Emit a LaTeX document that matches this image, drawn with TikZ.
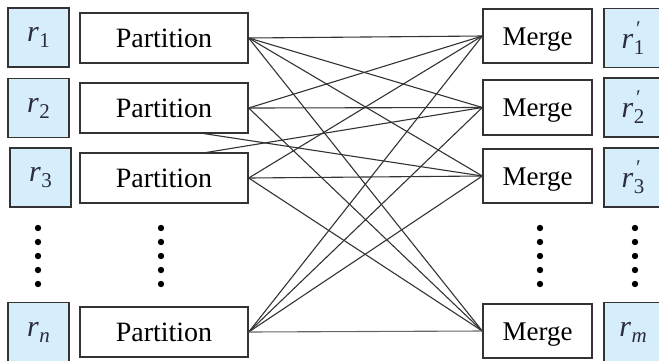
\documentclass[tikz,border=0pt]{standalone}
\usepackage{fontspec}
\setmainfont{Liberation Serif}
\definecolor{boxfill}{HTML}{D6EEFB}
\definecolor{edge}{HTML}{333333}
\definecolor{labelink}{HTML}{2A2A40}
\newcommand{\subfont}{\fontsize{21}{21}\selectfont}
\newcommand{\rsub}[1]{\textit{r}\kern0.5pt\raisebox{-6pt}{\subfont #1}}
\newcommand{\rprime}[1]{\textit{r}\kern0.5pt\rlap{\raisebox{13pt}{\kern1pt\subfont\textit{′}}}\raisebox{-6pt}{\subfont #1}}
\begin{document}
\begin{tikzpicture}[x=1pt,y=-1pt,
  rbox/.style={draw=edge,fill=boxfill,line width=1.4pt,inner sep=0pt,minimum width=61pt,minimum height=59pt,text=labelink,font=\fontsize{30}{30}\selectfont},
  pbox/.style={draw=edge,fill=white,line width=1.4pt,inner sep=0pt,minimum width=168pt,minimum height=50pt,text height=19pt,text depth=0pt,font=\fontsize{28}{30}\selectfont},
  mbox/.style={draw=edge,fill=white,line width=1.4pt,inner sep=0pt,minimum width=109pt,minimum height=54pt,text height=18pt,text depth=0pt,font=\fontsize{27}{30}\selectfont},
  link/.style={draw=edge,line width=1.1pt},
  dotmark/.style={fill=black,draw=none}]
\useasboundingbox (0,0) rectangle (659,360);
\begin{scope}
\clip (0,0) rectangle (659,360);
\node[pbox] (P1) at (164,38) {Partition};
\node[pbox] (P2) at (164,108) {Partition};
\node[pbox] (P3) at (164,178) {Partition};
\node[pbox] (Pn) at (164,332) {Partition};
\node[mbox] (M1) at (537.5,36) {Merge};
\node[mbox,minimum height=55pt] (M2) at (537.5,107.5) {Merge};
\node[mbox] (M3) at (537.5,176) {Merge};
\node[mbox] (Mm) at (537.5,331) {Merge};
\coordinate (c1) at (200,133);
\coordinate (c2) at (203,153);
\draw[link] (P1.east) -- (M1.west);
\draw[link] (P1.east) -- (M2.west);
\draw[link] (P1.east) -- (M3.west);
\draw[link] (P1.east) -- (Mm.west);
\draw[link] (P2.east) -- (M1.west);
\draw[link] (P2.east) -- (M2.west);
\draw[link] (c1) -- (M3.west);
\draw[link] (P2.east) -- (Mm.west);
\draw[link] (P3.east) -- (M1.west);
\draw[link] (c2) -- (M2.west);
\draw[link] (P3.east) -- (M3.west);
\draw[link] (P3.east) -- (Mm.west);
\draw[link] (Pn.east) -- (M1.west);
\draw[link] (Pn.east) -- (M2.west);
\draw[link] (Pn.east) -- (M3.west);
\draw[link,draw=edge!75] (Pn.east) -- (Mm.west);
% left r boxes
\node[rbox] (r1) at (38.5,37.5) {\rsub{1}};
\node[rbox] (r2) at (38.5,108) {\rsub{2}};
\node[rbox] (r3) at (40.5,177.5) {\rsub{3}};
\node[rbox] (rn) at (38.5,332) {\rsub{\textit{n}}};
% right r' boxes
\node[rbox,minimum width=58pt] (q1) at (633,38) {\rprime{1}};
\node[rbox,minimum width=58pt] (q2) at (633,107.5) {\rprime{2}};
\node[rbox,minimum width=58pt] (q3) at (633,177.5) {\rprime{3}};
\node[rbox,minimum width=58pt] (qm) at (633,332) {\rsub{\textit{m}}};
% dots
\foreach \x in {38,161,540,635}{
  \foreach \y in {228,242,256,270,284}{
    \fill[dotmark] (\x,\y) circle (3.2pt);
  }
}
\end{scope}
\end{tikzpicture}
\end{document}
